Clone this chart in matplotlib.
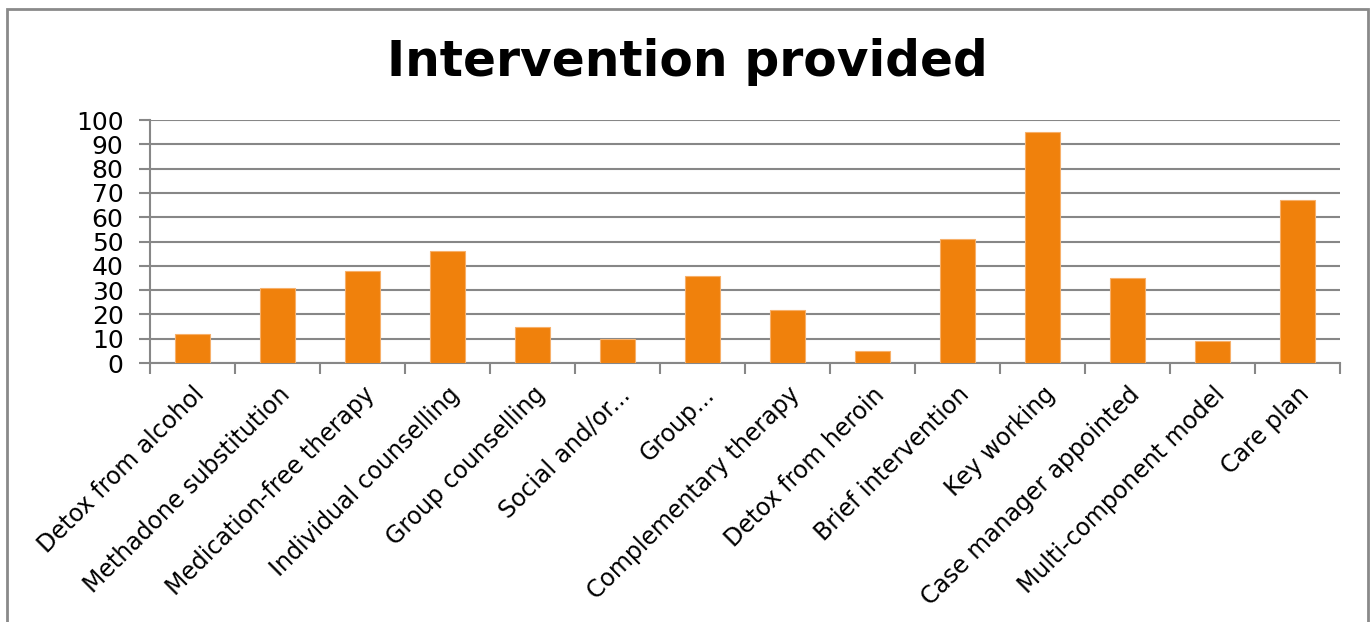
import matplotlib.pyplot as plt
from matplotlib.patches import Rectangle

categories = [
    'Detox from alcohol', 'Methadone substitution', 'Medication-free therapy',
    'Individual counselling', 'Group counselling', 'Social and/or...',
    'Group...', 'Complementary therapy', 'Detox from heroin',
    'Brief intervention', 'Key working', 'Case manager appointed',
    'Multi-component model', 'Care plan',
]
values = [12, 31, 38, 46, 15, 10, 36, 22, 5, 51, 95, 35, 9, 67]
yticks = list(range(0, 101, 10))

bar_color = '#F0810C'
grid_color = '#878787'

fig = plt.figure(figsize=(13.71, 6.22), dpi=100)
ax = fig.add_axes([150 / 1371, 1 - 363 / 622, 1190 / 1371, 243 / 622])

x = list(range(len(categories)))
ax.bar(x, values, width=0.41, color=bar_color, edgecolor='#F7B06A',
       linewidth=0.8, zorder=3)

ax.set_xlim(-0.5, len(categories) - 0.5)
ax.set_ylim(0, 100)
ax.set_yticks(yticks)
ax.set_yticklabels([str(v) for v in yticks], fontsize=18)
ax.yaxis.grid(True, color=grid_color, linewidth=1.5, zorder=0)
ax.tick_params(axis='y', length=8, width=1.5, color=grid_color, pad=11)

# category boundary ticks on x
ax.set_xticks([i - 0.5 for i in range(len(categories) + 1)])
ax.set_xticklabels([])
ax.tick_params(axis='x', length=8, width=1.5, color=grid_color)
ax.set_xticks(x, minor=True)
ax.set_xticklabels(categories, minor=True, rotation=45, ha='right',
                   rotation_mode='anchor', fontsize=17)
ax.tick_params(axis='x', which='minor', length=0, pad=14)

for side in ['top', 'right']:
    ax.spines[side].set_visible(False)
for side in ['left', 'bottom']:
    ax.spines[side].set_color(grid_color)
    ax.spines[side].set_linewidth(1.5)

fig.text(687 / 1371, 1 - 62 / 622, 'Intervention provided', ha='center',
         va='center', fontsize=35, fontweight='bold')

fig.patches.append(Rectangle((7 / 1371, -0.1), 1361 / 1371, 1.1 - 9 / 622,
                             transform=fig.transFigure, fill=False,
                             edgecolor='#8A8A8A', linewidth=2))

fig.savefig('out.png', dpi=100)
